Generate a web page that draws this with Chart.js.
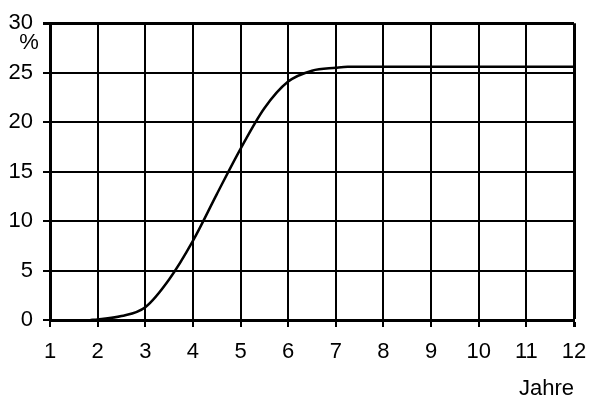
<!DOCTYPE html>
<html>
<head>
<meta charset="utf-8">
<script src="https://cdn.jsdelivr.net/npm/chart.js@4/dist/chart.umd.min.js"></script>
<style>
  html, body { margin: 0; padding: 0; background: #fff; }
  #wrap { width: 600px; height: 407px; }
</style>
</head>
<body>
<div id="wrap"><canvas id="chart"></canvas></div>
<script>
// curve (Jahre -> %)
const years = [1.85, 2, 2.5, 3, 3.5, 4, 4.5, 5, 5.5, 6, 6.5, 7, 7.25, 12];
const percent = [0, 0.05, 0.4, 1.3, 4.1, 8.0, 12.7, 17.3, 21.4, 24.1, 25.2, 25.5, 25.6, 25.6];

const xTitle = 'Jahre';
const yTitle = '%';

const font = { family: 'Liberation Sans, Arial, sans-serif', size: 22 };

const unitLabel = {
    id: 'unitLabel',
    afterDraw(chart) {
        const ctx = chart.ctx;
        ctx.save();
        ctx.fillStyle = '#000';
        ctx.font = '22px Liberation Sans, Arial, sans-serif';
        ctx.textAlign = 'center';
        ctx.textBaseline = 'middle';
        ctx.fillText(yTitle, 29, 43);
        ctx.restore();
    }
};

// outer frame lines (last tick) are drawn thicker, like the axes
function gridWidth(c) {
    return c.index === c.scale.ticks.length - 1 ? 3 : 2;
}

const ctx = document.getElementById('chart');
new Chart(ctx, {
    type: 'line',
    data: {
        datasets: [{
            data: years.map((x, i) => ({ x: x, y: percent[i] })),
            borderColor: '#000',
            borderWidth: 2.5,
            pointRadius: 0,
            fill: false,
            cubicInterpolationMode: 'monotone'
        }]
    },
    options: {
        responsive: true,
        maintainAspectRatio: false,
        animation: false,
        layout: { padding: { top: 17, right: 26, left: 0, bottom: 0 } },
        plugins: {
            legend: { display: false },
            tooltip: { enabled: false }
        },
        scales: {
            x: {
                type: 'linear',
                min: 1,
                max: 12,
                ticks: { stepSize: 1, color: '#000', font: font, padding: 12, maxRotation: 0 },
                grid: { color: '#000', lineWidth: gridWidth, tickLength: 7 },
                border: { color: '#000', width: 3 },
                title: { display: true, text: xTitle, align: 'end', color: '#000', font: font, padding: { top: 0, bottom: 5 } },
                afterFit(scale) { scale.height = 87; }
            },
            y: {
                min: 0,
                max: 30,
                ticks: { stepSize: 5, color: '#000', font: font, padding: 10 },
                grid: { color: '#000', lineWidth: gridWidth, tickLength: 7 },
                border: { color: '#000', width: 3 },
                afterFit(scale) { scale.width = 50; }
            }
        }
    },
    plugins: [unitLabel]
});
</script>
</body>
</html>
